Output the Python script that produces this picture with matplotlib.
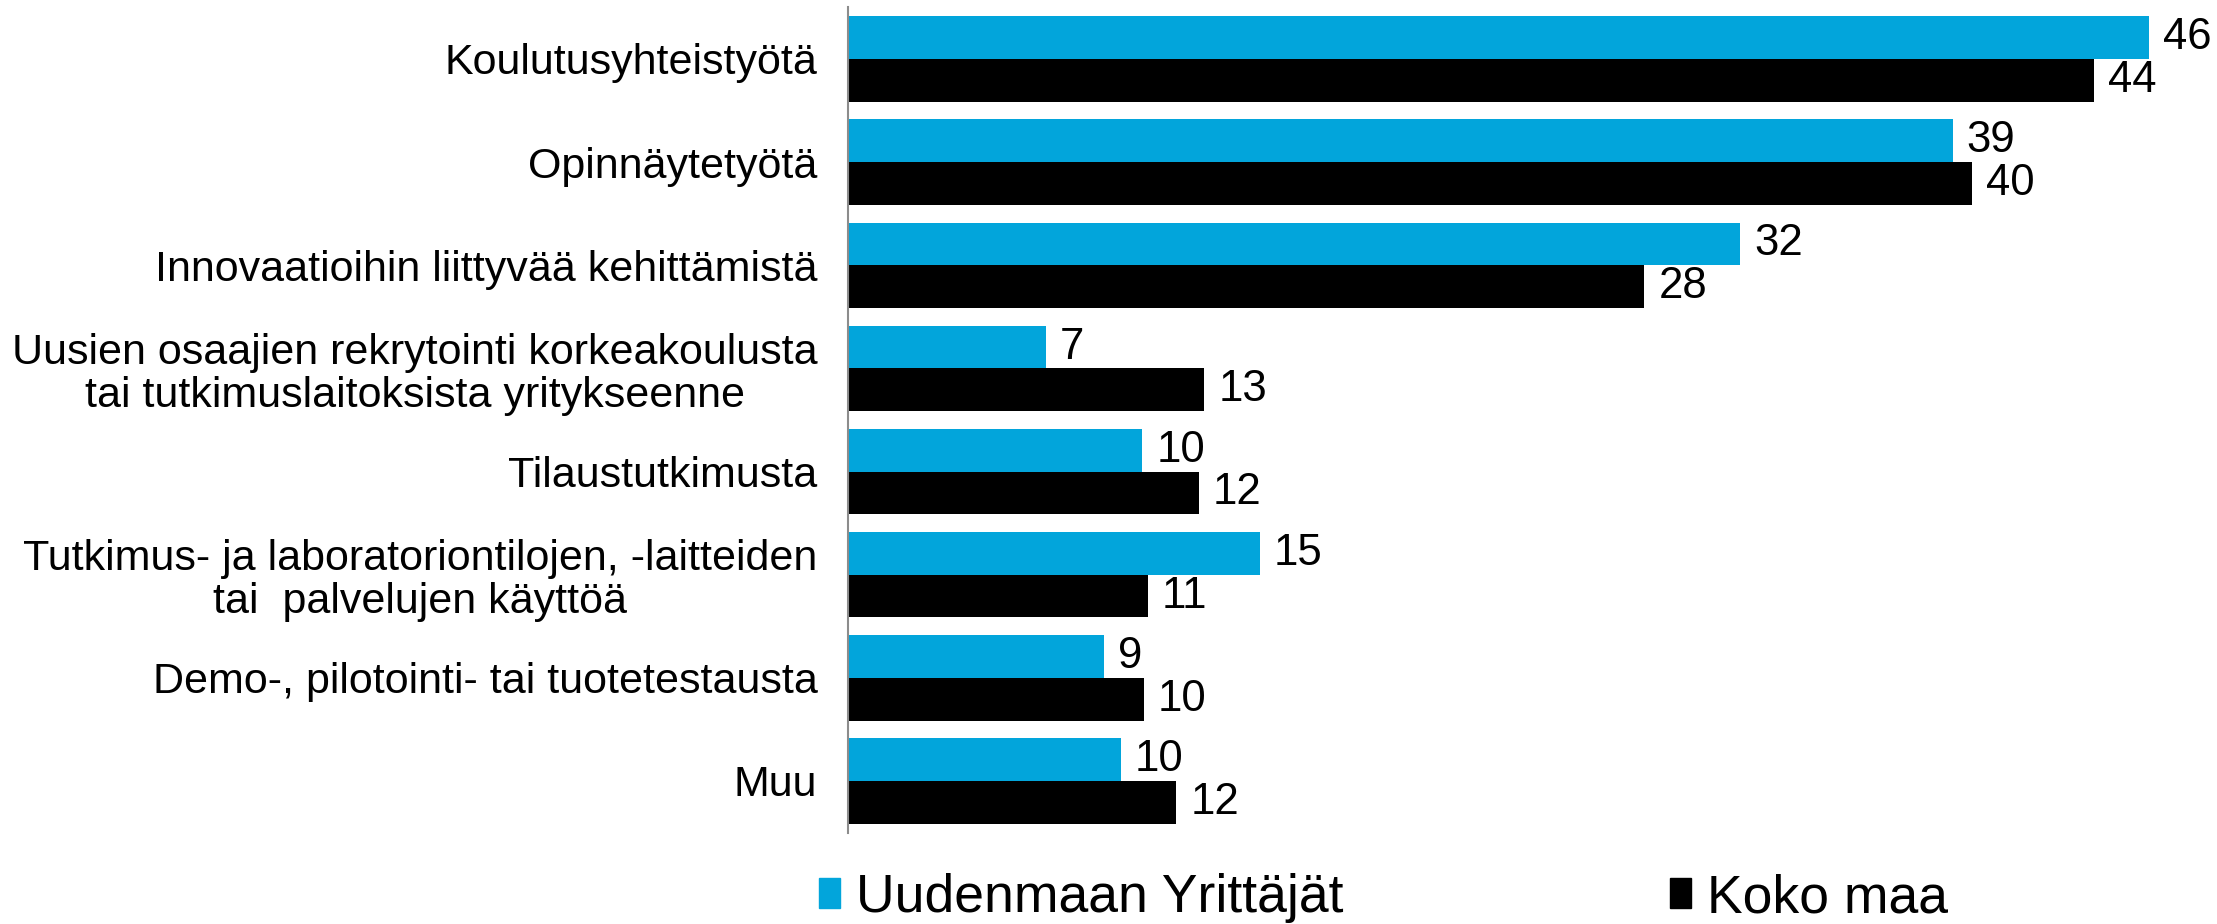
import matplotlib.pyplot as plt
import numpy as np
from matplotlib.patches import Patch

plt.rcParams['font.family'] = ['Liberation Sans', 'DejaVu Sans']

# categories (top to bottom)
categories = [
    'Koulutusyhteistyötä',
    'Opinnäytetyötä',
    'Innovaatioihin liittyvää kehittämistä',
    'Uusien osaajien rekrytointi korkeakoulusta\ntai tutkimuslaitoksista yritykseenne',
    'Tilaustutkimusta',
    'Tutkimus- ja laboratoriontilojen, -laitteiden\ntai  palvelujen käyttöä',
    'Demo-, pilotointi- tai tuotetestausta',
    'Muu',
]
uusimaa = [46.0, 39.05, 31.55, 7.0, 10.4, 14.55, 9.05, 9.65]
koko_maa = [44.05, 39.75, 28.15, 12.6, 12.4, 10.6, 10.45, 11.6]
series_names = ['Uudenmaan Yrittäjät', 'Koko maa']
colors = ['#02A5DB', '#000000']

fig = plt.figure(figsize=(22.17, 9.24), dpi=100)
ax = fig.add_axes([0.3825, 0.099, 0.6175, 0.893])

y = np.arange(len(categories))
h = 0.414
ax.barh(y - h / 2, uusimaa, height=h, color=colors[0])
ax.barh(y + h / 2, koko_maa, height=h, color=colors[1])

# value labels at bar ends
for yi, v in zip(y, uusimaa):
    ax.text(v + 0.5, yi - h / 2, f'{v:.0f}', va='center', ha='left', fontsize=31.5)
for yi, v in zip(y, koko_maa):
    ax.text(v + 0.5, yi + h / 2, f'{v:.0f}', va='center', ha='left', fontsize=31.5)

ax.set_yticks(y)
ax.set_yticklabels(categories, fontsize=31, linespacing=1.1, multialignment='center')
ax.tick_params(axis='y', length=0, pad=22)
ax.set_xticks([])
ax.set_ylim(7.5, -0.5)
ax.set_xlim(0, 48.4)

for s in ['top', 'right', 'bottom']:
    ax.spines[s].set_visible(False)
ax.spines['left'].set_color('#8c8c8c')
ax.spines['left'].set_linewidth(1.5)

handles = [Patch(color=c) for c in colors]
fig.legend(handles, series_names, loc='center', bbox_to_anchor=(0.624, 0.028),
           ncol=2, frameon=False, fontsize=38.5, handlelength=0.4, handleheight=0.5,
           handletextpad=0.3, columnspacing=6.1, borderpad=0)

fig.savefig('out.png', dpi=100)
